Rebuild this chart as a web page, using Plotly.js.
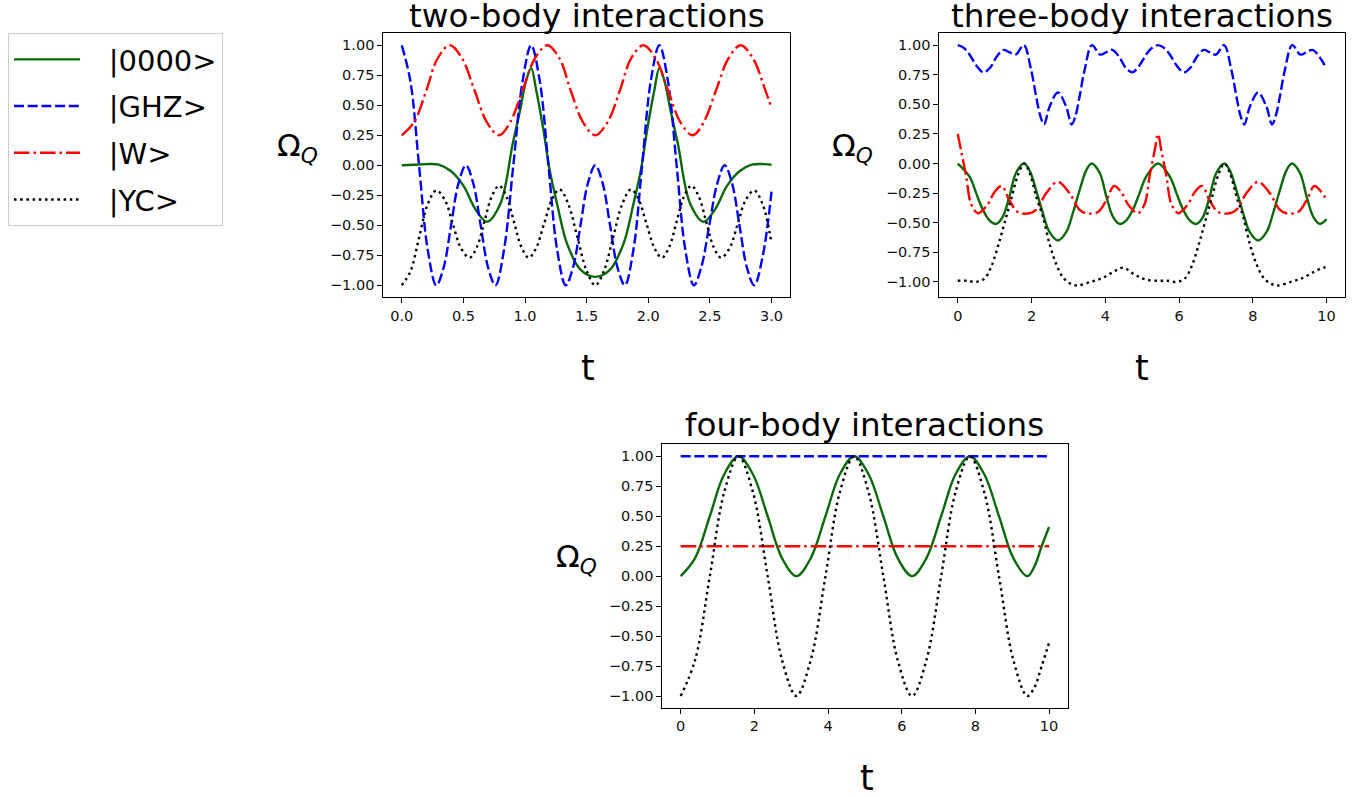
<!DOCTYPE html>
<html>
<head>
<meta charset="utf-8">
<script src="https://cdn.plot.ly/plotly-3.0.1.min.js"></script>
<style>html,body{margin:0;padding:0;background:#fff;}#plot{width:1363px;height:797px;}</style>
</head>
<body>
<div id="plot"></div>
<script>
// ---------- series names ----------
const seriesNames = ['|0000>', '|GHZ>', '|W>', '|YC>'];
const subplotTitles = ['two-body interactions', 'three-body interactions', 'four-body interactions'];
const yLabel = 'Ω<sub><i>Q</i></sub>';
const xLabel = 't';

// ---------- two-body interactions ----------
const t2_green = [0, 0.1, 0.2, 0.3, 0.4, 0.5, 0.6, 0.69, 0.8, 0.9, 0.96, 1.01, 1.05, 1.09, 1.15, 1.2, 1.26, 1.34, 1.45, 1.57, 1.69, 1.8, 1.88, 1.94, 1.99, 2.05, 2.09, 2.13, 2.18, 2.24, 2.34, 2.45, 2.54, 2.64, 2.74, 2.84, 2.94, 3.0];
const v2_green = [0, 0.005, 0.01, 0.005, -0.05, -0.17, -0.37, -0.47, -0.32, 0.18, 0.46, 0.71, 0.81, 0.63, 0.29, -0.04, -0.32, -0.65, -0.87, -0.93, -0.87, -0.65, -0.32, -0.04, 0.29, 0.63, 0.81, 0.71, 0.46, 0.18, -0.32, -0.47, -0.37, -0.17, -0.05, 0.005, 0.01, 0.005];

const t2_blue = [0, 0.07, 0.14, 0.21, 0.28, 0.34, 0.40, 0.46, 0.52, 0.58, 0.64, 0.70, 0.76, 0.83, 0.905, 0.98, 1.05, 1.12, 1.19, 1.26, 1.33, 1.39, 1.45, 1.51, 1.57, 1.63, 1.69, 1.75, 1.81, 1.88, 1.95, 2.02, 2.09, 2.16, 2.23, 2.30, 2.37, 2.43, 2.495, 2.56, 2.62, 2.68, 2.74, 2.80, 2.86, 2.93, 3.0];
const v2_blue = [1, 0.7, 0, -0.7, -1, -0.85, -0.5, -0.15, 0, -0.15, -0.5, -0.85, -1, -0.7, 0, 0.7, 1, 0.7, 0, -0.7, -1, -0.85, -0.5, -0.15, 0, -0.15, -0.5, -0.85, -1, -0.7, 0, 0.7, 1, 0.7, 0, -0.7, -1, -0.85, -0.5, -0.15, 0, -0.15, -0.5, -0.85, -1, -0.75, -0.22];

const t2_red = [0, 0.1, 0.2, 0.29, 0.39, 0.49, 0.59, 0.69, 0.79, 0.88, 0.98, 1.08, 1.18, 1.28, 1.37, 1.47, 1.57, 1.67, 1.77, 1.86, 1.96, 2.06, 2.16, 2.26, 2.36, 2.45, 2.55, 2.65, 2.75, 2.85, 2.95, 3.0];
const v2_red = [0.25, 0.36, 0.625, 0.89, 1, 0.89, 0.625, 0.36, 0.25, 0.36, 0.625, 0.89, 1, 0.89, 0.625, 0.36, 0.25, 0.36, 0.625, 0.89, 1, 0.89, 0.625, 0.36, 0.25, 0.36, 0.625, 0.89, 1, 0.89, 0.625, 0.48];

const t2_black = [0, 0.07, 0.14, 0.21, 0.28, 0.35, 0.415, 0.48, 0.55, 0.61, 0.67, 0.73, 0.79, 0.85, 0.91, 0.97, 1.03, 1.09, 1.155, 1.22, 1.28, 1.35, 1.425, 1.5, 1.57, 1.64, 1.715, 1.79, 1.86, 1.92, 1.985, 2.05, 2.11, 2.17, 2.23, 2.29, 2.35, 2.41, 2.47, 2.53, 2.59, 2.66, 2.725, 2.79, 2.86, 2.93, 3.0];
const v2_black = [-1, -0.885, -0.605, -0.325, -0.21, -0.29, -0.49, -0.69, -0.77, -0.68, -0.47, -0.26, -0.17, -0.26, -0.47, -0.68, -0.77, -0.69, -0.485, -0.28, -0.2, -0.32, -0.6, -0.88, -1, -0.88, -0.6, -0.32, -0.2, -0.28, -0.485, -0.69, -0.77, -0.68, -0.47, -0.26, -0.17, -0.26, -0.47, -0.68, -0.77, -0.69, -0.49, -0.29, -0.21, -0.33, -0.65];

// ---------- three-body interactions ----------
const t3_green = [0, 0.32, 0.5, 0.68, 0.86, 1.04, 1.22, 1.40, 1.58, 1.8, 1.95, 2.13, 2.31, 2.49, 2.715, 2.94, 3.12, 3.30, 3.48, 3.63, 3.85, 4.03, 4.21, 4.39, 4.57, 4.75, 4.93, 5.11, 5.43, 5.75, 5.93, 6.11, 6.29, 6.47, 6.65, 6.83, 7.01, 7.23, 7.38, 7.56, 7.74, 7.92, 8.145, 8.37, 8.55, 8.73, 8.91, 9.06, 9.28, 9.46, 9.64, 9.82, 10.0];
const v3_green = [0, -0.11, -0.25, -0.39, -0.48, -0.51, -0.45, -0.28, -0.08, 0, -0.06, -0.23, -0.42, -0.58, -0.65, -0.58, -0.42, -0.23, -0.06, 0, -0.08, -0.28, -0.45, -0.51, -0.48, -0.39, -0.25, -0.11, 0, -0.11, -0.25, -0.39, -0.48, -0.51, -0.45, -0.28, -0.08, 0, -0.06, -0.23, -0.42, -0.58, -0.65, -0.58, -0.42, -0.23, -0.06, 0, -0.08, -0.28, -0.45, -0.51, -0.47];

const t3_blue = [0, 0.15, 0.3, 0.5, 0.7, 0.88, 1.05, 1.24, 1.4, 1.57, 1.79, 1.99, 2.13, 2.24, 2.34, 2.49, 2.715, 2.94, 3.09, 3.19, 3.30, 3.44, 3.64, 3.86, 4.03, 4.19, 4.38, 4.55, 4.73, 4.93, 5.13, 5.28, 5.43, 5.58, 5.73, 5.93, 6.13, 6.31, 6.48, 6.67, 6.83, 7.0, 7.22, 7.42, 7.56, 7.67, 7.77, 7.92, 8.145, 8.37, 8.52, 8.62, 8.73, 8.87, 9.07, 9.29, 9.46, 9.62, 9.81, 10.0];
const v3_blue = [1.0, 0.98, 0.93, 0.83, 0.77, 0.81, 0.9, 0.96, 0.94, 0.92, 1.0, 0.79, 0.56, 0.4, 0.33, 0.48, 0.6, 0.48, 0.33, 0.4, 0.56, 0.79, 1.0, 0.92, 0.94, 0.96, 0.9, 0.81, 0.77, 0.83, 0.93, 0.98, 1.0, 0.98, 0.93, 0.83, 0.77, 0.81, 0.9, 0.96, 0.94, 0.92, 1.0, 0.79, 0.56, 0.4, 0.33, 0.48, 0.6, 0.48, 0.33, 0.4, 0.56, 0.79, 1.0, 0.92, 0.94, 0.96, 0.9, 0.8];

const t3_red = [0, 0.09, 0.23, 0.36, 0.55, 0.8, 1.0, 1.19, 1.4, 1.63, 1.95, 2.13, 2.4, 2.715, 3.03, 3.3, 3.48, 3.8, 4.03, 4.24, 4.43, 4.63, 4.88, 5.07, 5.2, 5.34, 5.43, 5.52, 5.66, 5.79, 5.98, 6.23, 6.43, 6.62, 6.83, 7.06, 7.38, 7.56, 7.83, 8.145, 8.46, 8.73, 8.91, 9.23, 9.46, 9.67, 9.86, 10.0];
const v3_red = [0.25, 0.11, -0.11, -0.34, -0.42, -0.35, -0.24, -0.19, -0.31, -0.41, -0.42, -0.39, -0.25, -0.155, -0.25, -0.39, -0.42, -0.41, -0.31, -0.19, -0.24, -0.35, -0.42, -0.34, -0.11, 0.11, 0.25, 0.11, -0.11, -0.34, -0.42, -0.35, -0.24, -0.19, -0.31, -0.41, -0.42, -0.39, -0.25, -0.155, -0.25, -0.39, -0.42, -0.41, -0.31, -0.19, -0.24, -0.31];

const t3_black = [0, 0.25, 0.5, 0.73, 0.91, 1.09, 1.27, 1.45, 1.63, 1.8, 1.95, 2.13, 2.31, 2.49, 2.67, 2.85, 3.03, 3.24, 3.6, 3.9, 4.2, 4.48, 4.8, 5.1, 5.43, 5.68, 5.93, 6.16, 6.34, 6.52, 6.7, 6.88, 7.06, 7.23, 7.38, 7.56, 7.74, 7.92, 8.1, 8.28, 8.46, 8.67, 9.03, 9.33, 9.63, 9.91, 10.0];
const v3_black = [-0.99, -0.99, -1.0, -0.97, -0.87, -0.7, -0.5, -0.3, -0.1, 0, -0.08, -0.28, -0.45, -0.68, -0.85, -0.96, -1.01, -1.03, -1.0, -0.97, -0.92, -0.88, -0.94, -0.98, -0.99, -0.99, -1.0, -0.97, -0.87, -0.7, -0.5, -0.3, -0.1, 0, -0.08, -0.28, -0.45, -0.68, -0.85, -0.96, -1.01, -1.03, -1.0, -0.97, -0.92, -0.88, -0.88];

// ---------- four-body interactions ----------
const t4_green = [0, 0.39, 0.79, 1.18, 1.57, 1.96, 2.36, 2.75, 3.14, 3.53, 3.93, 4.32, 4.71, 5.1, 5.5, 5.89, 6.28, 6.67, 7.07, 7.46, 7.85, 8.24, 8.64, 9.03, 9.41, 9.6, 9.8, 10];
const v4_green = [0, 0.15, 0.5, 0.85, 1, 0.85, 0.5, 0.15, 0, 0.15, 0.5, 0.85, 1, 0.85, 0.5, 0.15, 0, 0.15, 0.5, 0.85, 1, 0.85, 0.5, 0.15, 0, 0.08, 0.25, 0.41];
const t4_blue = [0, 10];
const v4_blue = [1.0, 1.0];
const t4_red = [0, 10];
const v4_red = [0.25, 0.25];
const t4_black = [0, 0.39, 0.79, 1.18, 1.57, 1.96, 2.36, 2.75, 3.14, 3.53, 3.93, 4.32, 4.71, 5.1, 5.5, 5.89, 6.28, 6.67, 7.07, 7.46, 7.85, 8.24, 8.64, 9.03, 9.41, 9.6, 9.8, 10];
const v4_black = [-1, -0.7, 0, 0.7, 1, 0.7, 0, -0.7, -1, -0.7, 0, 0.7, 1, 0.7, 0, -0.7, -1, -0.7, 0, 0.7, 1, 0.7, 0, -0.7, -1, -0.93, -0.75, -0.555];

// ---------- tick labels ----------
const yTicks = [-1, -0.75, -0.5, -0.25, 0, 0.25, 0.5, 0.75, 1];
const xTicks2 = [0, 0.5, 1, 1.5, 2, 2.5, 3];
const xTicks10 = [0, 2, 4, 6, 8, 10];

// ---------- styling ----------
const W = 1363, H = 797;
const px = v => v / W, py = v => 1 - v / H;
const FONT = 'DejaVu Sans, Liberation Sans, sans-serif';
const colors = ['#0a6a0a', '#0000ff', '#ff0000', '#000000'];
const dashes = ['solid', '10px,3.7px', '15.5px,4px,2.5px,4px', '2.5px,3.7px'];
const LW = 2.4;
const LEGEND_PAD = '\u2002\u00a0'; // visual gap between legend line sample and its label

function trace(x, y, i, xa, ya, show) {
  return {
    type: 'scatter', mode: 'lines', x: x, y: y, name: LEGEND_PAD + seriesNames[i],
    legendgroup: 'g' + i, showlegend: show,
    line: {color: colors[i], width: LW, dash: dashes[i], shape: 'spline', smoothing: 1},
    xaxis: xa, yaxis: ya, hoverinfo: 'skip'
  };
}

const data = [
  trace(t2_green, v2_green, 0, 'x', 'y', true),
  trace(t2_blue, v2_blue, 1, 'x', 'y', true),
  trace(t2_red, v2_red, 2, 'x', 'y', true),
  trace(t2_black, v2_black, 3, 'x', 'y', true),
  trace(t3_green, v3_green, 0, 'x2', 'y2', false),
  trace(t3_blue, v3_blue, 1, 'x2', 'y2', false),
  trace(t3_red, v3_red, 2, 'x2', 'y2', false),
  trace(t3_black, v3_black, 3, 'x2', 'y2', false),
  trace(t4_green, v4_green, 0, 'x3', 'y3', false),
  trace(t4_blue, v4_blue, 1, 'x3', 'y3', false),
  trace(t4_red, v4_red, 2, 'x3', 'y3', false),
  trace(t4_black, v4_black, 3, 'x3', 'y3', false)
];

function axisBase() {
  return {
    showgrid: false, zeroline: false, showline: true, mirror: true,
    linecolor: '#000', linewidth: 1, ticks: 'outside', ticklen: 5, tickwidth: 1,
    tickcolor: '#000', tickfont: {family: FONT, size: 14.5, color: '#111'},
    fixedrange: true
  };
}
function xAxis(dom, range, ticks, fmt, anchor) {
  return Object.assign(axisBase(), {domain: dom, range: range, tickmode: 'array', tickvals: ticks,
    ticktext: ticks.map(v => v.toFixed(fmt)), anchor: anchor});
}
function yAxis(dom, range, anchor) {
  return Object.assign(axisBase(), {domain: dom, range: range, tickmode: 'array', tickvals: yTicks,
    ticktext: yTicks.map(v => (v < 0 ? '\u2212' : '') + Math.abs(v).toFixed(2)), anchor: anchor});
}

// plot boxes in pixels: [left, right, top, bottom]
const box2 = [383.3, 790, 33.3, 297.3];
const box3 = [939.3, 1345, 33.3, 297.3];
const box4 = [662.3, 1067.5, 444.3, 708];
const dx = b => [px(b[0]), px(b[1])];
const dy = b => [py(b[3]), py(b[2])];

function ann(text, x, y, size) {
  return {text: text, x: px(x), y: py(y), xref: 'paper', yref: 'paper', showarrow: false,
    xanchor: 'center', yanchor: 'middle', font: {family: FONT, size: size, color: '#000'}};
}

const layout = {
  width: W, height: H, margin: {l: 0, r: 0, t: 0, b: 0},
  paper_bgcolor: '#fff', plot_bgcolor: '#fff', hovermode: false,
  xaxis: xAxis(dx(box2), [-0.15, 3.15], xTicks2, 1, 'y'),
  yaxis: yAxis(dy(box2), [-1.1, 1.1], 'x'),
  xaxis2: xAxis(dx(box3), [-0.5, 10.5], xTicks10, 0, 'y2'),
  yaxis2: yAxis(dy(box3), [-1.13, 1.10], 'x2'),
  xaxis3: xAxis(dx(box4), [-0.5, 10.5], xTicks10, 0, 'y3'),
  yaxis3: yAxis(dy(box4), [-1.1, 1.1], 'x3'),
  showlegend: true,
  legend: {
    x: px(8), y: py(33), xanchor: 'left', yanchor: 'top',
    font: {family: FONT, size: 29, color: '#000'},
    bgcolor: '#fff', bordercolor: '#cccccc', borderwidth: 1,
    itemwidth: 66, tracegroupgap: 6, traceorder: 'grouped'
  },
  annotations: [
    ann(subplotTitles[0], (box2[0] + box2[1]) / 2, 16, 32.6),
    ann(subplotTitles[1], (box3[0] + box3[1]) / 2, 16, 32.6),
    ann(subplotTitles[2], (box4[0] + box4[1]) / 2, 425, 32.6),
    ann(yLabel, 297.5, 147, 31),
    ann(yLabel, 852, 147, 31),
    ann(yLabel, 576, 558, 31),
    ann(xLabel, 588, 368, 35),
    ann(xLabel, 1142, 368, 35),
    ann(xLabel, 867, 778, 35)
  ]
};

Plotly.newPlot('plot', data, layout, {staticPlot: true, displayModeBar: false});
</script>
</body>
</html>
